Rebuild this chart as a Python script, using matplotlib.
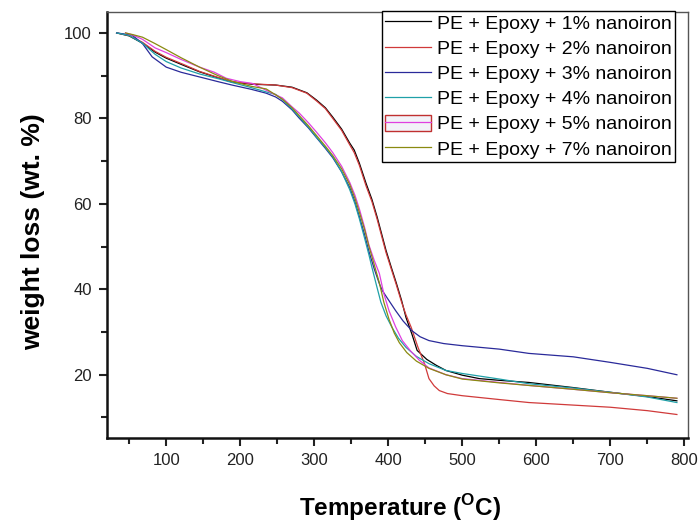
import matplotlib
matplotlib.use("Agg")
import matplotlib.pyplot as plt
from matplotlib.patches import Patch
from matplotlib.legend_handler import HandlerTuple
from matplotlib.ticker import MultipleLocator

plt.rcParams['font.family'] = ['Liberation Sans', 'DejaVu Sans']
plt.rcParams['mathtext.fontset'] = 'custom'
plt.rcParams['mathtext.bf'] = 'Liberation Sans:bold'
plt.rcParams['mathtext.rm'] = 'Liberation Sans'

labels = ["PE + Epoxy + 1% nanoiron", "PE + Epoxy + 2% nanoiron",
          "PE + Epoxy + 3% nanoiron", "PE + Epoxy + 4% nanoiron",
          "PE + Epoxy + 5% nanoiron", "PE + Epoxy + 7% nanoiron"]
colors = ["#000000", "#d03a3a", "#2a2a9a", "#1fa0a8", "#e040e0", "#8a8a10"]

t1 = [33, 50, 68, 85, 100, 125, 145, 170, 189, 216, 248, 270, 290, 303, 315, 325, 337, 348, 354, 361,
      370, 378, 385, 391, 397, 404, 411, 418, 424, 432, 439, 452, 465, 478, 500, 523, 550, 590, 650, 700, 750, 790]
w1 = [100, 99.3, 97.6, 95.5, 94.1, 92.3, 90.9, 89.5, 88.5, 88.0, 87.8, 87.3, 86.0, 84.3, 82.5, 80.3, 77.5, 74.2, 72.6, 69.5,
      64.8, 61.0, 56.9, 53.0, 49.1, 45.2, 41.4, 37.4, 33.4, 29.5, 25.7, 23.6, 22.2, 21.0, 19.9, 19.1, 18.7, 18.2, 17.0, 15.9, 14.9, 13.9]

t2 = [33, 50, 68, 85, 100, 125, 145, 170, 189, 216, 248, 270, 290, 303, 315, 325, 337, 348, 354, 361,
      370, 378, 385, 391, 397, 404, 411, 418, 424, 431, 440, 449, 455, 462, 469, 480, 500, 550, 590, 650, 700, 750, 790]
w2 = [100, 99.4, 97.8, 95.7, 94.3, 92.5, 91.0, 89.6, 88.6, 88.1, 87.8, 87.2, 85.9, 84.1, 82.3, 80.0, 77.2, 73.8, 72.0, 69.0,
      64.2, 60.5, 56.4, 52.5, 48.6, 44.8, 41.0, 37.0, 34.0, 31.1, 26.5, 22.6, 19.1, 17.4, 16.3, 15.6, 15.1, 14.2, 13.5, 12.9, 12.4, 11.6, 10.7]

t3 = [33, 54, 68, 81, 100, 120, 145, 170, 189, 215, 235, 248, 257, 270, 280, 292, 303, 315, 325, 337, 348, 355, 361, 368,
      374, 381, 388, 392, 400, 410, 420, 432, 443, 455, 475, 500, 550, 590, 650, 700, 750, 790]
w3 = [100, 99.5, 97.5, 94.4, 92.0, 90.8, 89.7, 88.6, 87.8, 86.8, 85.9, 85.0, 84.0, 82.0, 80.0, 77.8, 75.5, 73.0, 70.8, 67.5, 63.8, 60.5, 57.0, 52.8,
      48.8, 44.8, 41.3, 39.7, 37.6, 35.0, 32.6, 30.3, 28.9, 28.0, 27.3, 26.8, 26.0, 25.0, 24.2, 22.9, 21.5, 20.0]

t4 = [33, 50, 68, 85, 100, 120, 145, 170, 189, 215, 235, 248, 257, 270, 280, 292, 303, 315, 325, 337, 348, 355, 361, 368,
      374, 378, 384, 390, 397, 405, 414, 424, 438, 455, 478, 500, 550, 590, 650, 700, 750, 790]
w4 = [100, 99.4, 97.6, 95.0, 93.3, 91.8, 90.4, 89.3, 88.4, 87.2, 86.2, 85.6, 84.4, 82.2, 80.3, 78.0, 75.6, 73.2, 71.0, 67.5, 63.3, 60.0, 56.5, 52.0,
      48.0, 45.1, 41.0, 37.0, 33.8, 31.1, 28.5, 26.4, 24.3, 22.6, 21.0, 20.3, 19.0, 17.9, 16.9, 15.9, 14.8, 13.5]

t5 = [45, 55, 68, 85, 100, 120, 145, 165, 181, 200, 216, 235, 248, 257, 270, 280, 292, 303, 315, 325, 337, 348, 355, 361, 368,
      374, 381, 388, 394, 401, 410, 419, 430, 442, 455, 478, 500, 550, 590, 650, 700, 750, 790]
w5 = [100, 99.5, 98.5, 96.5, 95.4, 93.8, 92.0, 90.8, 89.4, 88.6, 88.2, 86.6, 85.5, 84.8, 82.7, 81.2, 79.0, 76.8, 74.3, 72.0, 68.8, 65.0, 62.0, 58.8, 54.5,
      50.3, 46.8, 43.7, 39.0, 35.0, 31.2, 28.0, 25.6, 23.4, 21.6, 20.0, 19.1, 18.2, 17.5, 16.6, 15.8, 15.1, 14.5]

t7 = [45, 55, 68, 85, 100, 120, 145, 170, 189, 215, 235, 248, 257, 270, 280, 292, 303, 315, 325, 337, 348, 355, 361, 368,
      374, 381, 388, 394, 401, 408, 415, 425, 438, 455, 478, 500, 550, 590, 650, 700, 750, 790]
w7 = [100, 99.6, 99.0, 97.5, 96.1, 94.2, 92.0, 90.0, 88.7, 87.5, 86.9, 85.5, 84.5, 82.5, 80.6, 78.3, 76.0, 73.5, 71.3, 68.2, 64.5, 61.3, 58.0, 54.0,
      50.0, 45.8, 41.5, 37.0, 33.0, 29.8, 27.5, 25.2, 23.2, 21.5, 20.0, 19.0, 18.1, 17.5, 16.6, 15.8, 15.1, 14.5]

series = [(t1, w1), (t2, w2), (t3, w3), (t4, w4), (t5, w5), (t7, w7)]

fig = plt.figure(figsize=(6.99, 5.25), dpi=100)
ax = fig.add_axes([107/699, 1-438/525, (688-107)/699, (438-12)/525])

lines = []
for (t, w), c, lab in zip(series, colors, labels):
    ln, = ax.plot(t, w, color=c, lw=0.9, label=lab)
    lines.append(ln)

ax.set_xlim(20, 805)
ax.set_ylim(5.2, 104.9)
ax.xaxis.set_minor_locator(MultipleLocator(50))
ax.yaxis.set_minor_locator(MultipleLocator(10))
ax.set_xticks([100, 200, 300, 400, 500, 600, 700, 800])
ax.set_yticks([20, 40, 60, 80, 100])

ax.tick_params(which='both', direction='out', top=False, right=False, colors='#222222',
               labelsize=12, width=1.5)
ax.tick_params(which='major', length=6, pad=5)
ax.tick_params(which='minor', length=4)
for s in ['left', 'bottom']:
    ax.spines[s].set_linewidth(1.8)
    ax.spines[s].set_color('#111111')
for s in ['top', 'right']:
    ax.spines[s].set_linewidth(1.0)
    ax.spines[s].set_color('#555555')

ax.set_ylabel('weight loss (wt. %)', fontsize=19, fontweight='bold')
ax.yaxis.set_label_coords(-0.107, 0.484)
ax.set_xlabel(r'Temperature ($^{\mathbf{O}}$C)', fontsize=17.5, fontweight='bold')
ax.xaxis.set_label_coords(0.505, -0.128)

handles = list(lines)
box = Patch(facecolor='#f2f2f8', edgecolor='#c03030', lw=1.0)
handles[4] = (box, lines[4])
leg = ax.legend(handles, labels, loc='upper right',
                bbox_to_anchor=(675/699, 1-11/525), bbox_transform=fig.transFigure,
                borderaxespad=0, fontsize=14, frameon=True, fancybox=False,
                framealpha=1, edgecolor='black', handlelength=2.4, handletextpad=0.3,
                labelspacing=0.33, borderpad=0.15, handleheight=0.9,
                handler_map={tuple: HandlerTuple(ndivide=1, pad=0)})
leg.get_frame().set_linewidth(1.0)

fig.savefig('out.png', dpi=100)
